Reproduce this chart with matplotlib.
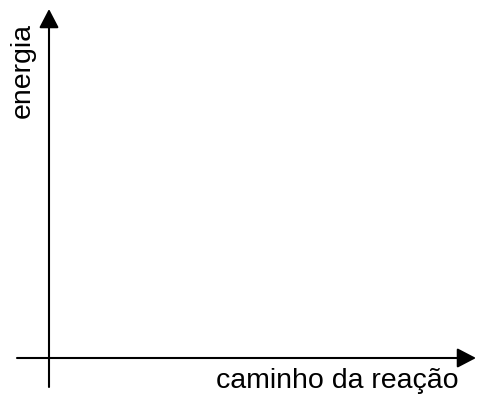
import matplotlib
matplotlib.use("Agg")
from matplotlib import pyplot as plt

plt.rcParams['font.family'] = ['Liberation Sans', 'DejaVu Sans']

# axis labels of the sketch
x_label = "caminho da reação"
y_label = "energia"

fig = plt.figure(figsize=(4.78, 4.00), dpi=100)
ax = fig.add_axes([0, 0, 1, 1])
ax.set_xlim(0, 478)
ax.set_ylim(400, 0)
ax.axis("off")

arrow = dict(arrowstyle="-|>,head_length=1.15,head_width=0.6", mutation_scale=10,
             color="black", lw=1.5, shrinkA=0, shrinkB=0)

# vertical axis (energia)
ax.annotate("", xy=(49, 9), xytext=(49, 387), arrowprops=arrow)
# horizontal axis (caminho da reacao)
ax.annotate("", xy=(476, 358), xytext=(17, 358), arrowprops=arrow)

ax.text(459, 388, x_label, ha="right", va="baseline", fontsize=20.5)
ax.text(22.5, 70.5, y_label, ha="center", va="center", rotation=90, fontsize=20.5)

fig.savefig("out.png", dpi=100)
